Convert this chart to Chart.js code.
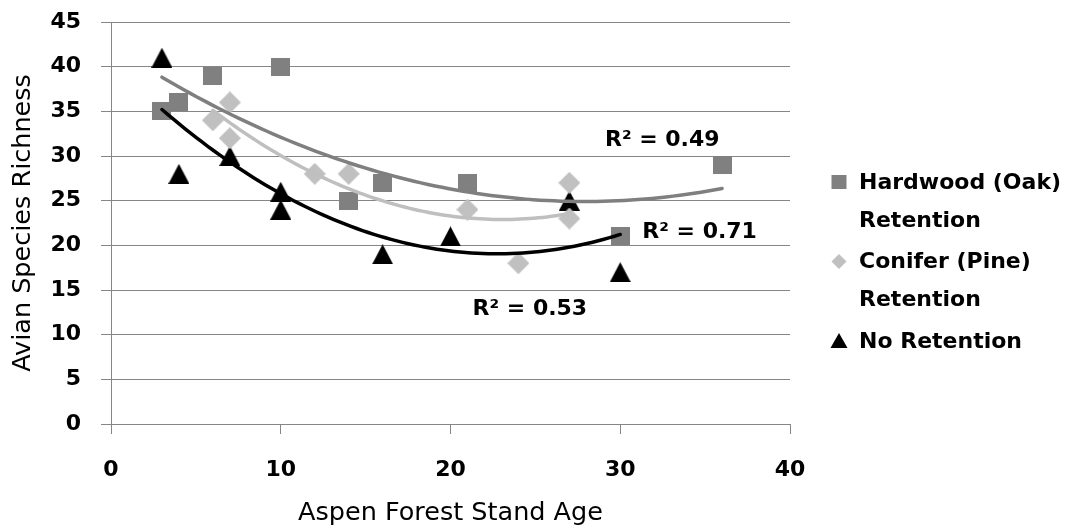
<!DOCTYPE html>
<html><head><meta charset="utf-8">
<script src="https://cdn.jsdelivr.net/npm/chart.js@4.4.1/dist/chart.umd.min.js"></script>
<style>html,body{margin:0;padding:0;background:#fff;} #wrap{width:1078px;height:529px;position:relative;}</style>
</head><body><div id="wrap"><canvas id="c" width="1078" height="529"></canvas></div>
<script>
// ---- data ----
const seriesNames = ['Hardwood (Oak) Retention', 'Conifer (Pine) Retention', 'No Retention'];
const legendLines = [['Hardwood (Oak)', 'Retention'], ['Conifer (Pine)', 'Retention'], ['No Retention']];
const hardwoodAge = [3, 4, 6, 10, 14, 16, 21, 30, 36];
const hardwoodRichness = [35, 36, 39, 40, 25, 27, 27, 21, 29];
const coniferAge = [6, 7, 7, 12, 14, 21, 24, 27, 27];
const coniferRichness = [34, 36, 32, 28, 28, 24, 18, 27, 23];
const noRetAge = [3, 4, 7, 10, 10, 16, 20, 27, 30];
const noRetRichness = [41, 28, 30, 26, 24, 19, 21, 25, 17];
const xTicks = [0, 10, 20, 30, 40];
const yTicks = [0, 5, 10, 15, 20, 25, 30, 35, 40, 45];
const r2Labels = ['R\u00B2 = 0.49', 'R\u00B2 = 0.71', 'R\u00B2 = 0.53'];
const r2LabelX = [29.1, 31.3, 21.3];
const r2LabelY = [31.8, 21.5, 12.8];
const xTitle = 'Aspen Forest Stand Age';
const yTitle = 'Avian Species Richness';

// ---- styles ----
const colors = ['#808080', '#c0c0c0', '#000000'];
const lineColors = ['#7f7f7f', '#bfbfbf', '#000000'];
const shapes = ['square', 'diamond', 'triangle'];
const markerW = [19, 22, 21];
const markerH = [18, 22, 20];
const FONT = '"DejaVu Sans", Lato, sans-serif';
const GRID = '#868686';

// marker images: the shape fills its box, so the box is centred on the value
function markerCanvas(shape, w, h, color) {
  const c = document.createElement('canvas');
  c.width = w; c.height = h;
  const g = c.getContext('2d');
  g.fillStyle = color;
  g.beginPath();
  if (shape === 'square') g.rect(0, 0, w, h);
  else if (shape === 'diamond') { g.moveTo(w / 2, 0); g.lineTo(w, h / 2); g.lineTo(w / 2, h); g.lineTo(0, h / 2); }
  else { g.moveTo(w / 2, 0); g.lineTo(w, h); g.lineTo(0, h); }
  g.closePath();
  g.fill();
  return c;
}

// least-squares polynomial (order 2) trendline, as the spreadsheet computes it
function polyfit2(xs, ys) {
  const n = xs.length;
  let s = [0, 0, 0, 0, 0], t = [0, 0, 0];
  for (let i = 0; i < n; i++) {
    const x = xs[i], y = ys[i];
    for (let k = 0; k <= 4; k++) s[k] += Math.pow(x, k);
    for (let k = 0; k <= 2; k++) t[k] += Math.pow(x, k) * y;
  }
  const A = [[s[0], s[1], s[2], t[0]], [s[1], s[2], s[3], t[1]], [s[2], s[3], s[4], t[2]]];
  for (let i = 0; i < 3; i++) {
    for (let j = i + 1; j < 3; j++) {
      const f = A[j][i] / A[i][i];
      for (let k = i; k < 4; k++) A[j][k] -= f * A[i][k];
    }
  }
  const c = [0, 0, 0];
  for (let i = 2; i >= 0; i--) {
    let v = A[i][3];
    for (let k = i + 1; k < 3; k++) v -= A[i][k] * c[k];
    c[i] = v / A[i][i];
  }
  return c;
}
function trend(xs, ys) {
  const c = polyfit2(xs, ys);
  const lo = Math.min(...xs), hi = Math.max(...xs), pts = [];
  const steps = 80;
  for (let i = 0; i <= steps; i++) {
    const x = lo + (hi - lo) * i / steps;
    pts.push({x, y: c[0] + c[1] * x + c[2] * x * x});
  }
  return pts;
}
const pairs = (xs, ys) => xs.map((x, i) => ({x, y: ys[i]}));

const seriesX = [hardwoodAge, coniferAge, noRetAge];
const seriesY = [hardwoodRichness, coniferRichness, noRetRichness];

const datasets = [];
seriesNames.forEach((name, i) => {
  datasets.push({
    type: 'scatter', label: name, data: pairs(seriesX[i], seriesY[i]),
    pointStyle: markerCanvas(shapes[i], markerW[i], markerH[i], colors[i]),
    pointRadius: 10, pointHoverRadius: 10,
    backgroundColor: colors[i], borderColor: colors[i], borderWidth: 0, order: 2
  });
});
seriesNames.forEach((name, i) => {
  datasets.push({
    type: 'line', label: name + ' trend', data: trend(seriesX[i], seriesY[i]),
    borderColor: lineColors[i], borderWidth: 3.5, pointRadius: 0, tension: 0,
    fill: false, order: 1, borderCapStyle: 'round'
  });
});

const sideLegend = {
  id: 'sideLegend',
  afterDraw(chart) {
    const ctx = chart.ctx;
    const mx = 839, tx = 859;
    let y = 182;
    ctx.save();
    ctx.font = 'bold 22px ' + FONT;
    ctx.textBaseline = 'middle';
    ctx.textAlign = 'left';
    legendLines.forEach((lines, i) => {
      ctx.fillStyle = colors[i];
      ctx.beginPath();
      if (shapes[i] === 'square') {
        ctx.rect(mx - 7.5, y - 7, 15, 14);
      } else if (shapes[i] === 'diamond') {
        ctx.moveTo(mx - 7.5, y); ctx.lineTo(mx, y - 7.5); ctx.lineTo(mx + 7.5, y); ctx.lineTo(mx, y + 7.5);
      } else {
        ctx.moveTo(mx, y - 8); ctx.lineTo(mx + 8.5, y + 7); ctx.lineTo(mx - 8.5, y + 7);
      }
      ctx.closePath(); ctx.fill();
      ctx.fillStyle = '#000';
      lines.forEach((ln) => { ctx.fillText(ln, tx, y + 1); y += 38; });
      y += 3.5;
    });
    ctx.restore();
  }
};

const r2Plugin = {
  id: 'r2Plugin',
  afterDatasetsDraw(chart) {
    const ctx = chart.ctx, xs = chart.scales.x, ys = chart.scales.y;
    ctx.save();
    ctx.font = 'bold 22px ' + FONT;
    ctx.textBaseline = 'middle';
    ctx.textAlign = 'left';
    ctx.fillStyle = '#000';
    r2Labels.forEach((t, i) => {
      ctx.fillText(t, xs.getPixelForValue(r2LabelX[i]), ys.getPixelForValue(r2LabelY[i]));
    });
    ctx.restore();
  }
};

new Chart(document.getElementById('c'), {
  data: {datasets},
  options: {
    responsive: false, animation: false, devicePixelRatio: 1,
    layout: {autoPadding: false, padding: {left: 0, right: 288, top: 22, bottom: 0}},
    plugins: {legend: {display: false}, tooltip: {enabled: false}},
    scales: {
      x: {
        type: 'linear', min: 0, max: 40,
        afterBuildTicks: s => { s.ticks = xTicks.map(v => ({value: v})); },
        afterFit: s => { s.height = 105; s.paddingLeft = 0; s.paddingRight = 0; },
        grid: {drawOnChartArea: false, drawTicks: true, tickLength: 10, color: GRID, lineWidth: 1},
        border: {display: true, color: GRID, width: 1},
        ticks: {color: '#000', font: {family: FONT, size: 22, weight: 'bold'}, padding: 23, maxRotation: 0},
        title: {display: true, text: xTitle, color: '#000', font: {family: FONT, size: 25.5}, padding: {top: 0, bottom: 0}}
      },
      y: {
        type: 'linear', min: 0, max: 45,
        afterBuildTicks: s => { s.ticks = yTicks.map(v => ({value: v})); },
        afterFit: s => { s.width = 111; s.paddingTop = 0; s.paddingBottom = 0; },
        grid: {drawTicks: true, tickLength: 10, color: GRID, lineWidth: 1},
        border: {display: true, color: GRID, width: 1},
        ticks: {color: '#000', font: {family: FONT, size: 22, weight: 'bold'}, padding: 20},
        title: {display: true, text: yTitle, color: '#000', font: {family: FONT, size: 25.5}, padding: {top: 8, bottom: 0}}
      }
    }
  },
  plugins: [sideLegend, r2Plugin]
});
</script></body></html>
